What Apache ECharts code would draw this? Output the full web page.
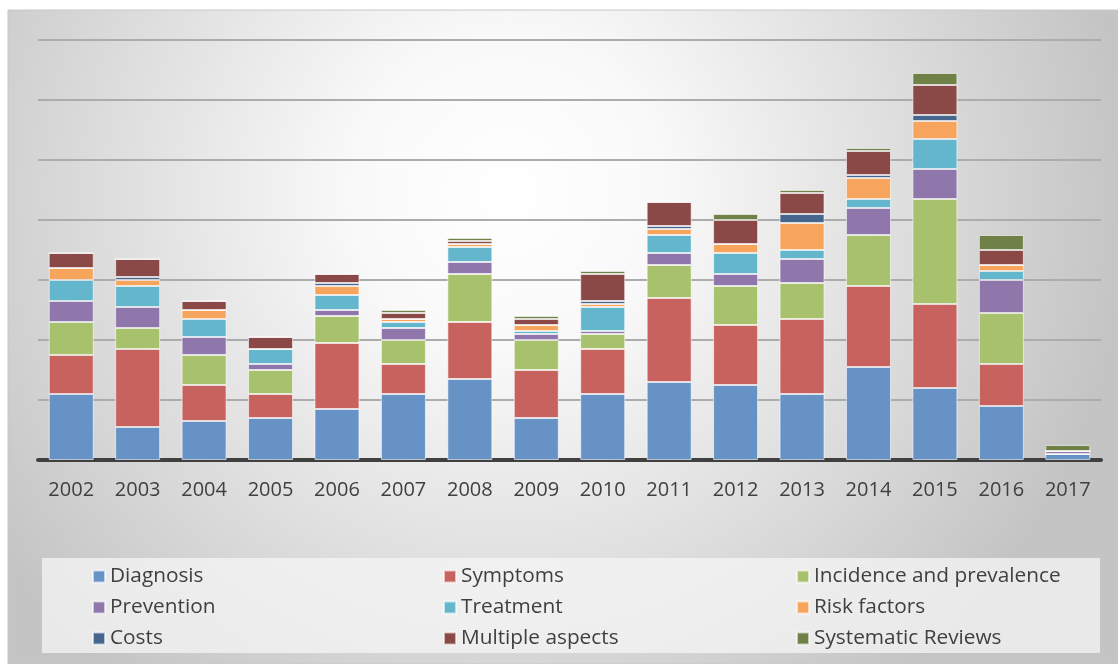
<!DOCTYPE html>
<html>
<head>
<meta charset="utf-8">
<script src="https://cdn.jsdelivr.net/npm/echarts@6/dist/echarts.min.js"></script>
<style>
html,body{margin:0;padding:0;background:#ffffff;}
#chart{width:1118px;height:664px;}
</style>
</head>
<body>
<div id="chart"></div>
<script>
// ---- data (publications per year by topic) ----
const years = ['2002','2003','2004','2005','2006','2007','2008','2009','2010','2011','2012','2013','2014','2015','2016','2017'];
const diagnosis   = [22,11,13,14,17,22,27,14,22,26,25,22,31,24,18,2];
const symptoms    = [13,26,12, 8,22,10,19,16,15,28,20,25,27,28,14,0];
const incidence   = [11, 7,10, 8, 9, 8,16,10, 5,11,13,12,17,35,17,0];
const prevention  = [ 7, 7, 6, 2, 2, 4, 4, 2, 1, 4, 4, 8, 9,10,11,1];
const treatment   = [ 7, 7, 6, 5, 5, 2, 5, 1, 8, 6, 7, 3, 3,10, 3,0];
const riskFactors = [ 4, 2, 3, 0, 3, 1, 1, 2, 1, 2, 3, 9, 7, 6, 2,0];
const costs       = [ 0, 1, 0, 0, 1, 0, 0, 0, 1, 1, 0, 3, 1, 2, 0,0];
const multiple    = [ 5, 6, 3, 4, 3, 2, 1, 2, 9, 8, 8, 7, 8,10, 5,0];
const systematic  = [ 0, 0, 0, 0, 0, 1, 1, 1, 1, 0, 2, 1, 1, 4, 5,2];

const seriesNames = ['Diagnosis','Symptoms','Incidence and prevalence','Prevention','Treatment','Risk factors','Costs','Multiple aspects','Systematic Reviews'];
const seriesData  = [diagnosis, symptoms, incidence, prevention, treatment, riskFactors, costs, multiple, systematic];
const seriesColors = ['#6692c6','#c8625f','#a7c16c','#8f76ab','#63b6cc','#f7a45d','#46668e','#8a4846','#6f8147'];

const chart = echarts.init(document.getElementById('chart'), null, {renderer:'canvas'});

const FONT = '"Open Sans", sans-serif';

const legendCommon = {
  orient: 'vertical',
  itemWidth: 12,
  itemHeight: 12,
  itemGap: 10,
  padding: 0,
  icon: 'rect',
  selectedMode: false,
  textStyle: { fontFamily: FONT, fontSize: 20.8, color: '#3f3f3f', lineHeight: 21 }
};

const option = {
  animation: false,
  backgroundColor: 'transparent',
  textStyle: { fontFamily: FONT },
  graphic: [
    {
      type: 'rect', z: -10, silent: true,
      shape: { x: 8, y: 10, width: 1110, height: 654 },
      style: {
        fill: {
          type: 'radial', x: 0.45, y: 0.28, r: 0.95,
          colorStops: [
            { offset: 0, color: '#ffffff' },
            { offset: 0.25, color: '#f9f9f9' },
            { offset: 1, color: '#c4c4c4' }
          ]
        },
        stroke: '#c8c8c8', lineWidth: 1
      }
    },
    {
      type: 'rect', z: -9, silent: true,
      shape: { x: 42, y: 558, width: 1058, height: 95 },
      style: { fill: 'rgba(245,245,245,0.75)' }
    }
  ],
  legend: [
    Object.assign({}, legendCommon, { left: 92, top: 566, data: ['Diagnosis','Prevention','Costs'] }),
    Object.assign({}, legendCommon, { left: 443, top: 566, data: ['Symptoms','Treatment','Multiple aspects'] }),
    Object.assign({}, legendCommon, { left: 796, top: 566, data: ['Incidence and prevalence','Risk factors','Systematic Reviews'] })
  ],
  grid: { left: 38, right: 17, top: 40, bottom: 204, containLabel: false },
  xAxis: {
    type: 'category',
    data: years,
    axisLine: { show: true, lineStyle: { color: '#404040', width: 4 } },
    axisTick: { show: false },
    axisLabel: { fontFamily: FONT, fontSize: 20, color: '#404040', margin: 20 }
  },
  yAxis: {
    type: 'value',
    min: 0, max: 140, interval: 20,
    axisLabel: { show: false },
    axisLine: { show: false },
    axisTick: { show: false },
    splitLine: { show: true, lineStyle: { color: '#acacac', width: 2 } }
  },
  series: seriesNames.map((name, i) => ({
    name: name,
    type: 'bar',
    stack: 'total',
    barWidth: 45,
    data: seriesData[i],
    itemStyle: {
      color: seriesColors[i],
      borderColor: 'rgba(255,255,255,0.6)',
      borderWidth: 1
    },
    emphasis: { disabled: true }
  }))
};

chart.setOption(option);
</script>
</body>
</html>
